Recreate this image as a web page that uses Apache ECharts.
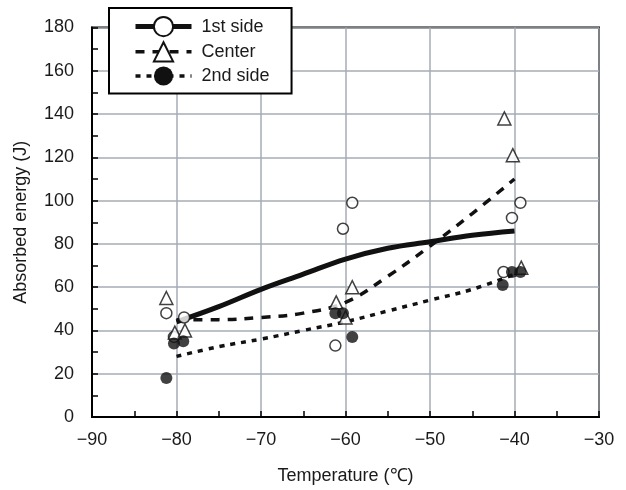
<!DOCTYPE html>
<html>
<head>
<meta charset="utf-8">
<script src="https://cdn.jsdelivr.net/npm/echarts@6/dist/echarts.min.js"></script>
<style>
  html, body { margin: 0; padding: 0; background: #fff; }
  #main { width: 626px; height: 490px; }
</style>
</head>
<body>
<div id="main"></div>
<script>
// measured points (temperature, absorbed energy)
var firstX = [-81.2, -80.3, -79.1, -61.2, -60.3, -59.2, -41.3, -40.3, -39.3];
var firstY = [48, 37, 46, 33, 87, 99, 67, 92, 99];
var centerX = [-81.2, -80.2, -79.0, -61.1, -60.0, -59.2, -41.2, -40.2, -39.2];
var centerY = [55, 39, 40, 53, 46, 60, 138, 121, 69];
var secondX = [-81.2, -80.3, -79.2, -61.2, -60.3, -59.2, -41.4, -40.3, -39.3];
var secondY = [18, 34, 35, 48, 48, 37, 61, 67, 67];

// trend curves
var trendX = [-80, -75, -70, -65, -60, -55, -50, -45, -40];
var firstTrend = [44, 51, 59, 66, 73, 78, 81, 84, 86];
var centerTrend = [45, 45, 46, 48, 53, 65, 79, 94, 110];
var secondTrend = [28, 32.5, 36, 40, 44, 49, 54, 59, 66];

var font = "'Liberation Sans', Arial, sans-serif";

function pairs(xs, ys) {
	return xs.map(function (x, i) { return [x, ys[i]]; });
}

function minus(v) {
	return String(v).replace('-', '\u2212');
}

var myChart = echarts.init(document.getElementById('main'));
var option = {
	animation: false,
	textStyle: { fontFamily: font },
	grid: {
		left: 92,
		right: 27,
		top: 27.5,
		bottom: 70,
		show: true,
		borderColor: '#000',
		borderWidth: 2
	},
	legend: {
		orient: 'vertical',
		left: 109,
		top: 8,
		padding: [8, 22, 8, 24],
		itemWidth: 56,
		itemHeight: 24,
		itemGap: 4,
		backgroundColor: '#fff',
		borderColor: '#000',
		borderWidth: 2,
		lineStyle: { width: 'inherit', type: 'inherit' },
		textStyle: { fontSize: 18, color: '#1a1a1a', fontFamily: font, padding: [0, 0, 0, 5] },
		data: ['1st side', 'Center', '2nd side']
	},
	xAxis: {
		type: 'value',
		min: -90,
		max: -30,
		interval: 10,
		name: 'Temperature (\u2103)',
		nameLocation: 'middle',
		nameGap: 50,
		nameTextStyle: { fontSize: 18, color: '#1a1a1a' },
		axisLine: { lineStyle: { color: '#000', width: 2 } },
		axisTick: { inside: true, length: 6, lineStyle: { color: '#000', width: 1.5 } },
		minorTick: { show: true, splitNumber: 2, length: 6, lineStyle: { color: '#000', width: 1.5 } },
		axisLabel: { fontSize: 18, color: '#1a1a1a', margin: 14, formatter: minus },
		splitLine: { lineStyle: { color: '#a6adb4', width: 1.5 } }
	},
	yAxis: {
		type: 'value',
		min: 0,
		max: 180,
		interval: 20,
		name: 'Absorbed energy (J)',
		nameLocation: 'middle',
		nameGap: 62,
		nameTextStyle: { fontSize: 18, color: '#1a1a1a' },
		axisLine: { lineStyle: { color: '#000', width: 2 } },
		axisTick: { inside: true, length: 6, lineStyle: { color: '#000', width: 1.5 } },
		minorTick: { show: true, splitNumber: 2, length: 6, lineStyle: { color: '#000', width: 1.5 } },
		axisLabel: { fontSize: 18, color: '#1a1a1a', margin: 18 },
		splitLine: { lineStyle: { color: '#a6adb4', width: 1.5 } }
	},
	series: [{
		name: '1st side',
		type: 'line',
		data: pairs(trendX, firstTrend),
		smooth: 0.4,
		symbol: 'emptyCircle',
		showSymbol: false,
		itemStyle: { color: '#111' },
		lineStyle: { color: '#111', width: 5 },
		z: 3
	}, {
		name: 'Center',
		type: 'line',
		data: pairs(trendX, centerTrend),
		smooth: 0.4,
		symbol: 'emptyTriangle',
		showSymbol: false,
		itemStyle: { color: '#111' },
		lineStyle: { color: '#111', width: 3.5, type: [9, 8] },
		z: 3
	}, {
		name: '2nd side',
		type: 'line',
		data: pairs(trendX, secondTrend),
		smooth: 0.4,
		symbol: 'circle',
		showSymbol: false,
		itemStyle: { color: '#111' },
		lineStyle: { color: '#111', width: 3.5, type: [5, 6] },
		z: 3
	}, {
		name: '1st side',
		type: 'scatter',
		data: pairs(firstX, firstY),
		symbol: 'circle',
		symbolSize: 11,
		itemStyle: { color: '#fff', borderColor: '#111', borderWidth: 1.5 },
		z: 4
	}, {
		name: 'Center',
		type: 'scatter',
		data: pairs(centerX, centerY),
		symbol: 'triangle',
		symbolSize: 13,
		itemStyle: { color: '#fff', borderColor: '#111', borderWidth: 1.5 },
		z: 4
	}, {
		name: '2nd side',
		type: 'scatter',
		data: pairs(secondX, secondY),
		symbol: 'circle',
		symbolSize: 12,
		itemStyle: { color: '#111' },
		z: 4
	}]
};
myChart.setOption(option);
</script>
</body>
</html>
